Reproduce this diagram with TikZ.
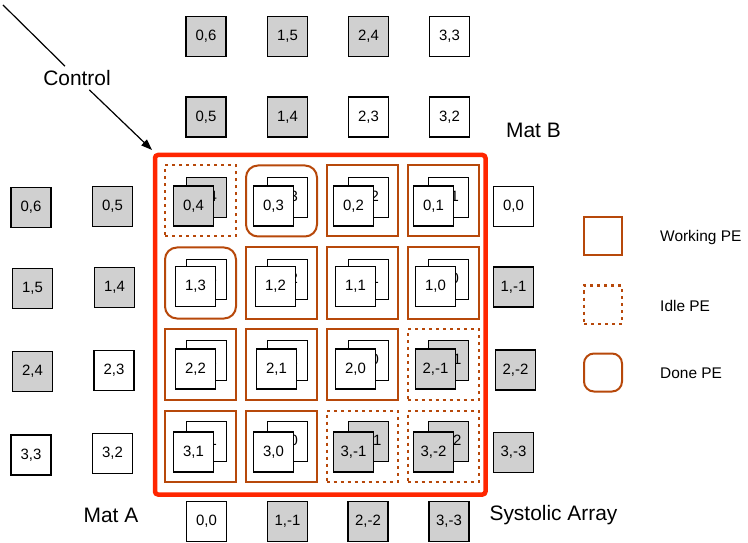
\documentclass[tikz,border=0pt]{standalone}
\usepackage{fontspec}
\setmainfont{Liberation Sans}
\usetikzlibrary{arrows.meta}
\definecolor{pecol}{RGB}{183,72,10}
\definecolor{arrred}{RGB}{255,38,0}
\definecolor{boxgray}{RGB}{208,208,208}
\begin{document}
\begin{tikzpicture}[x=1bp,y=-1bp,
 mbox/.style={draw=black,line width=1.1bp,fill=white,minimum width=40bp,minimum height=40bp,inner sep=0pt,font=\fontsize{15}{18}\selectfont},
 gbox/.style={mbox,fill=boxgray},
 pebase/.style={draw=pecol,line width=2bp,minimum width=71bp,minimum height=71bp,inner sep=0pt},
 working/.style={pebase},
 idle/.style={pebase,dash pattern=on 3bp off 4bp},
 done/.style={pebase,rounded corners=12bp},
 big/.style={font=\fontsize{21}{25}\selectfont,inner sep=4bp},
 legtext/.style={font=\fontsize{15.5}{18}\selectfont,anchor=west,inner sep=0pt},
 conn/.style={draw=black,line width=1.2bp},
]
\useasboundingbox (0,0) rectangle (748,543);

% Systolic array frame
\node[draw=arrred,line width=4.5bp,rounded corners=3bp,minimum width=330.5bp,minimum height=339.5bp,inner sep=0pt] (arr) at (320.25,324.75) {};

% Control
\coordinate (cstart) at (3,5);
\node[big] (ctrl) at (77,78) {Control};
\coordinate (ctip) at (152,150);
\draw[conn] (cstart) -- (ctrl);
\draw[conn,-{Triangle[length=11bp,width=8bp]}] (ctrl) -- (ctip);

% Mat B (top)
\node[gbox] (t06) at (206,36.5) {0,6};
\node[gbox] (t15) at (287.5,36.5) {1,5};
\node[gbox] (t24) at (368.5,36.5) {2,4};
\node[mbox] (t33) at (449.5,36.5) {3,3};
\node[gbox] (t05) at (206,117) {0,5};
\node[gbox] (t14) at (287.5,117) {1,4};
\node[mbox] (t23) at (368.5,117) {2,3};
\node[mbox] (t32) at (449.5,117) {3,2};

% Mat A (left)
\node[gbox] (l06) at (31,207.5) {0,6};
\node[gbox] (l05) at (112.5,206.5) {0,5};
\node[gbox] (l15) at (32.5,288.5) {1,5};
\node[gbox] (l14) at (114.5,287.5) {1,4};
\node[gbox] (l24) at (32.5,371.5) {2,4};
\node[mbox] (l23) at (114,370.5) {2,3};
\node[mbox] (l33) at (31,455) {3,3};
\node[mbox] (l32) at (112.5,453.5) {3,2};

% right column
\node[mbox] (r00) at (513.5,206.5) {0,0};
\node[gbox] (r11) at (513.5,287) {1,-1};
\node[gbox] (r22) at (515.5,370) {2,-2};
\node[gbox] (r33) at (513.5,452.5) {3,-3};

% bottom row
\node[mbox] (d00) at (206.5,521.5) {0,0};
\node[gbox] (d11) at (287.5,521.5) {1,-1};
\node[gbox] (d22) at (368,521.5) {2,-2};
\node[gbox] (d33) at (449,521.5) {3,-3};

% labels
\node[big] (matb) at (533.5,130) {Mat B};
\node[big] (mata) at (111,515) {Mat A};
\node[big] (sys) at (553.5,515) {Systolic Array};

% PE cells row 0
\node[idle] (p00) at (200.5,201) {};
\node[gbox] (b00) at (206.5,197.5) {0,4};
\node[gbox] (f00) at (193.5,206) {0,4};
\node[done] (p01) at (281.5,201) {};
\node[mbox] (b01) at (287.5,197.5) {0,3};
\node[mbox] (f01) at (273.5,206) {0,3};
\node[working] (p02) at (362,201) {};
\node[mbox] (b02) at (368.5,197.5) {0,2};
\node[mbox] (f02) at (353.5,206) {0,2};
\node[working] (p03) at (443,201) {};
\node[mbox] (b03) at (448.5,197.5) {0,1};
\node[mbox] (f03) at (433.5,206) {0,1};

% row 1
\node[done] (p10) at (200.5,283) {};
\node[mbox] (b10) at (206.5,279.5) {1,3};
\node[mbox] (f10) at (195.5,286.5) {1,3};
\node[working] (p11) at (281.5,283) {};
\node[mbox] (b11) at (287.5,279.5) {1,2};
\node[mbox] (f11) at (275.5,286.5) {1,2};
\node[working] (p12) at (362,283) {};
\node[mbox] (b12) at (368.5,279.5) {1,1};
\node[mbox] (f12) at (355.5,286.5) {1,1};
\node[working] (p13) at (443,283) {};
\node[mbox] (b13) at (448.5,279.5) {1,0};
\node[mbox] (f13) at (435.5,286.5) {1,0};

% row 2
\node[working] (p20) at (200.5,364.5) {};
\node[mbox] (b20) at (206.5,360.5) {2,2};
\node[mbox] (f20) at (195.5,369) {2,2};
\node[working] (p21) at (281.5,364.5) {};
\node[mbox] (b21) at (287.5,360.5) {2,1};
\node[mbox] (f21) at (276.5,369) {2,1};
\node[working] (p22) at (362,364.5) {};
\node[mbox] (b22) at (368.5,360.5) {2,0};
\node[mbox] (f22) at (355.5,369) {2,0};
\node[idle] (p23) at (443,364.5) {};
\node[gbox] (b23) at (448.5,360.5) {2,-1};
\node[gbox] (f23) at (435.5,369) {2,-1};

% row 3
\node[working] (p30) at (200.5,446) {};
\node[mbox] (b30) at (206.5,441.5) {3,1};
\node[mbox] (f30) at (193.5,452) {3,1};
\node[working] (p31) at (281.5,446) {};
\node[mbox] (b31) at (287.5,441.5) {3,0};
\node[mbox] (f31) at (273.5,452) {3,0};
\node[idle] (p32) at (362,446) {};
\node[gbox] (b32) at (368.5,441.5) {3,-1};
\node[gbox] (f32) at (353.5,452) {3,-1};
\node[idle] (p33) at (443,446) {};
\node[gbox] (b33) at (448.5,441.5) {3,-2};
\node[gbox] (f33) at (433.5,452) {3,-2};

% legend
\node[working,minimum width=38bp,minimum height=38bp] (lw) at (603,236.5) {};
\node[idle,minimum width=38bp,minimum height=38bp] (li) at (603,304.5) {};
\node[done,minimum width=38bp,minimum height=38bp,rounded corners=10bp] (ld) at (603,372.5) {};
\node[legtext] (lwt) at (660,237.5) {Working PE};
\node[legtext] (lit) at (660,306) {Idle PE};
\node[legtext] (ldt) at (660,373) {Done PE};
\end{tikzpicture}
\end{document}
